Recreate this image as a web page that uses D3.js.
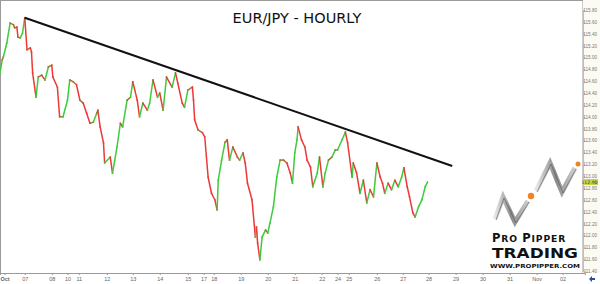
<!DOCTYPE html>
<html>
<head>
<meta charset="utf-8">
<script src="https://cdn.jsdelivr.net/npm/d3@7"></script>
<style>
  body { margin: 0; background: #fff; }
  svg { display: block; font-family: "DejaVu Sans", Verdana, sans-serif; }
</style>
</head>
<body>
<div id="chart"></div>
<script>
// hourly bar index (from Oct 6) and closing price
const hours = [0, 2, 3, 6, 9, 12, 13, 15, 16, 18, 20, 22, 24, 27, 28, 29, 32, 34, 37, 40,
    43, 46, 47, 51, 53, 56, 60, 62, 65, 68, 71, 74, 77, 80, 83, 86, 87, 89, 92, 93,
    98, 100, 102, 104, 107, 109, 113, 116, 118, 122, 124, 127, 131, 133, 136, 140, 142, 145, 148, 153,
    156, 158, 162, 164, 167, 171, 172, 173, 176, 180, 182, 185, 188, 191, 193, 194, 197, 200, 202, 204,
    207, 211, 213, 216, 218, 220, 224, 227, 228, 229, 231, 233, 236, 238, 240, 243, 246, 249, 252, 255,
    258, 260, 262, 264, 265, 268, 271, 273, 276, 278, 282, 284, 287, 289, 292, 295, 298, 300, 304, 307,
    309, 313, 314, 317, 320, 323, 326, 329, 332, 335, 338, 340, 342, 345, 348, 351, 354, 357, 359, 362,
    364, 367, 369, 372, 375, 378, 380]
const closes = [114.74, 114.96, 115.01, 115.24, 115.58, 115.55, 115.50, 115.51, 115.34, 115.33, 115.41, 115.67, 115.13, 115.16, 115.09, 114.74, 114.33, 114.67, 114.70, 114.62,
    114.84, 114.87, 114.67, 114.50, 114.00, 114.00, 114.28, 114.62, 114.59, 114.54, 114.28, 114.23, 114.06, 113.89, 113.91, 114.06, 114.11, 113.83, 113.56, 113.22,
    113.32, 113.05, 113.27, 113.49, 113.89, 113.83, 114.28, 114.33, 114.59, 114.28, 114.00, 114.23, 114.11, 114.23, 114.62, 114.33, 114.40, 114.11, 114.67, 114.50,
    114.74, 114.57, 114.23, 114.16, 114.45, 114.50, 114.28, 113.95, 113.78, 113.73, 113.66, 112.98, 112.71, 112.60, 112.43, 112.93, 113.27, 113.57, 113.61, 113.27,
    113.49, 113.32, 113.27, 113.39, 113.22, 112.88, 112.60, 111.97, 112.14, 111.87, 111.59, 111.97, 112.09, 112.04, 112.21, 112.48, 112.98, 113.27, 113.27, 113.22,
    113.05, 112.88, 113.39, 113.61, 113.83, 113.61, 113.49, 113.27, 113.15, 112.82, 113.05, 113.32, 112.82, 113.05, 113.27, 113.32, 113.44, 113.44, 113.61, 113.74,
    113.56, 112.98, 113.22, 113.05, 112.71, 112.93, 112.55, 112.77, 112.65, 113.22, 112.98, 112.88, 112.71, 112.88, 112.77, 112.93, 112.82, 112.98, 113.14, 112.82,
    112.65, 112.38, 112.31, 112.48, 112.60, 112.82, 112.90]

// trendline drawn over the highs
const trendHours = [22, 402]
const trendPrices = [115.67, 113.17]

const dayTicks = [4, 22, 46, 60, 70, 95, 118, 142, 167, 181, 190, 214, 238, 262, 286, 300, 310, 335, 358, 381, 405, 429, 453, 477, 500]
const dayLabels = ['Oct', '07', '08', '10', '11', '12', '13', '14', '15', '17', '18', '19', '20', '21', '22', '24', '25', '26', '27', '28', '29', '30', '31', 'Nov', '02']
const priceTicks = d3.range(111.4, 115.81, 0.2)

const width = 600, height = 284
const plotRight = 583, plotBottom = 273

const svg = d3.select('#chart').append('svg')
    .attr('width', width)
    .attr('height', height)

const x = d3.scaleLinear().domain([0, 520]).range([0, 585])
const y = d3.scaleLinear().domain([111.4, 115.8]).range([271, 10])

// frame
svg.append('rect')
    .attr('x', 0.5).attr('y', 0.5)
    .attr('width', plotRight - 0.5).attr('height', plotBottom)
    .attr('fill', 'none')
    .attr('stroke', '#9a9a9a')

// right axis strip
svg.append('rect')
    .attr('x', plotRight).attr('y', 0)
    .attr('width', width - plotRight).attr('height', plotBottom)
    .attr('fill', '#fbfbf4')

const yAxis = svg.append('g')
    .attr('transform', `translate(${plotRight},0)`)
    .call(d3.axisRight(y).tickValues(priceTicks).tickSize(2).tickFormat(d3.format('.2f')))
yAxis.select('.domain').attr('stroke', '#b8c0cc')
yAxis.selectAll('.tick line').attr('stroke', '#b8c0cc')
yAxis.selectAll('.tick text')
    .attr('x', 14).attr('text-anchor', 'end')
    .attr('font-size', 4.6).attr('fill', '#777')

// last price marker
const last = closes[closes.length - 1]
svg.append('rect')
    .attr('x', plotRight + 1).attr('y', y(last) - 3)
    .attr('width', 14).attr('height', 6)
    .attr('fill', '#c5d64a')
svg.append('text')
    .attr('x', plotRight + 14.5).attr('y', y(last) + 1.7)
    .attr('text-anchor', 'end')
    .attr('font-size', 4.6).attr('fill', '#333')
    .text(last.toFixed(2))

// bottom axis
const xAxis = svg.append('g')
    .attr('transform', `translate(0,${plotBottom})`)
    .call(d3.axisBottom(x).tickValues(dayTicks).tickSize(2).tickFormat((d, i) => dayLabels[i]))
xAxis.select('.domain').attr('stroke', '#9a9a9a')
xAxis.selectAll('.tick line').attr('stroke', '#9a9a9a')
xAxis.selectAll('.tick text')
    .attr('y', 4)
    .attr('font-size', 5.5).attr('fill', '#666')
    .attr('font-weight', (d, i) => i === 0 ? 'bold' : null)

// little corner icon
svg.append('path')
    .attr('d', `M${plotRight + 6},279 l3,-3 v2 h3 v2 h-3 v2 z`)
    .attr('fill', '#2a4c9c')

// price bars: each hour step coloured by direction
const steps = d3.range(1, hours.length)
svg.append('g').selectAll('line')
    .data(steps)
    .join('line')
    .attr('x1', i => x(hours[i - 1]))
    .attr('y1', i => y(closes[i - 1]))
    .attr('x2', i => x(hours[i]))
    .attr('y2', i => y(closes[i]))
    .attr('stroke', i => {
        const d = closes[i] - closes[i - 1]
        if (Math.abs(d) < 0.06) return '#a8702c'
        return d > 0 ? '#3ccc3c' : '#ee3838'
    })
    .attr('stroke-width', 1.5)
    .attr('stroke-linecap', 'square')

// trendline
svg.append('line')
    .attr('x1', x(trendHours[0])).attr('y1', y(trendPrices[0]))
    .attr('x2', x(trendHours[1])).attr('y2', y(trendPrices[1]))
    .attr('stroke', '#111')
    .attr('stroke-width', 2)

// title
svg.append('text')
    .attr('x', 297).attr('y', 23)
    .attr('text-anchor', 'middle')
    .attr('font-size', 14.5)
    .attr('fill', '#111')
    .text('EUR/JPY - HOURLY')

// logo
const logo = svg.append('g')
const grad = svg.append('defs').append('linearGradient')
    .attr('id', 'metal').attr('x1', 0).attr('y1', 0).attr('x2', 1).attr('y2', 0)
grad.append('stop').attr('offset', 0).attr('stop-color', '#e8e8e8')
grad.append('stop').attr('offset', 0.5).attr('stop-color', '#8a8a8a')
grad.append('stop').attr('offset', 1).attr('stop-color', '#cfcfcf')
const zig1 = [[495, 219], [503, 197], [515, 222], [528, 201]]
const zig2 = [[536, 191], [550, 163], [562, 192], [575, 168]]
;[zig1, zig2].forEach(z => {
    logo.append('path')
        .attr('d', d3.line()(z))
        .attr('fill', 'none')
        .attr('stroke', 'url(#metal)')
        .attr('stroke-width', 5)
        .attr('stroke-linejoin', 'miter')
    logo.append('path')
        .attr('d', d3.line()(z))
        .attr('fill', 'none')
        .attr('stroke', '#555')
        .attr('stroke-width', 1)
        .attr('transform', 'translate(1,1)')
        .attr('opacity', 0.6)
})
logo.append('circle').attr('cx', 531).attr('cy', 196).attr('r', 3.2).attr('fill', '#f08424')
logo.append('circle').attr('cx', 578).attr('cy', 164).attr('r', 2.5).attr('fill', '#f08424')

const pro = logo.append('text')
    .attr('x', 492).attr('y', 242)
    .attr('font-family', '"DejaVu Sans", sans-serif')
    .attr('font-weight', 'bold')
    .attr('letter-spacing', 0.9)
    .attr('fill', '#111')
pro.append('tspan').attr('font-size', 11.5).text('P')
pro.append('tspan').attr('font-size', 9.2).text('RO ')
pro.append('tspan').attr('font-size', 11.5).text('P')
pro.append('tspan').attr('font-size', 9.2).text('IPPER')

logo.append('text')
    .attr('x', 492).attr('y', 258)
    .attr('font-family', '"DejaVu Sans", sans-serif')
    .attr('font-weight', 'bold')
    .attr('font-size', 13.5)
    .attr('fill', '#111')
    .attr('textLength', 86).attr('lengthAdjust', 'spacingAndGlyphs')
    .text('TRADING')

logo.append('text')
    .attr('x', 490).attr('y', 268)
    .attr('font-family', '"DejaVu Sans", sans-serif')
    .attr('font-weight', 'bold')
    .attr('font-size', 5.5)
    .attr('fill', '#111')
    .attr('textLength', 90).attr('lengthAdjust', 'spacingAndGlyphs')
    .text('WWW.PROPIPPER.COM')
</script>
</body>
</html>
